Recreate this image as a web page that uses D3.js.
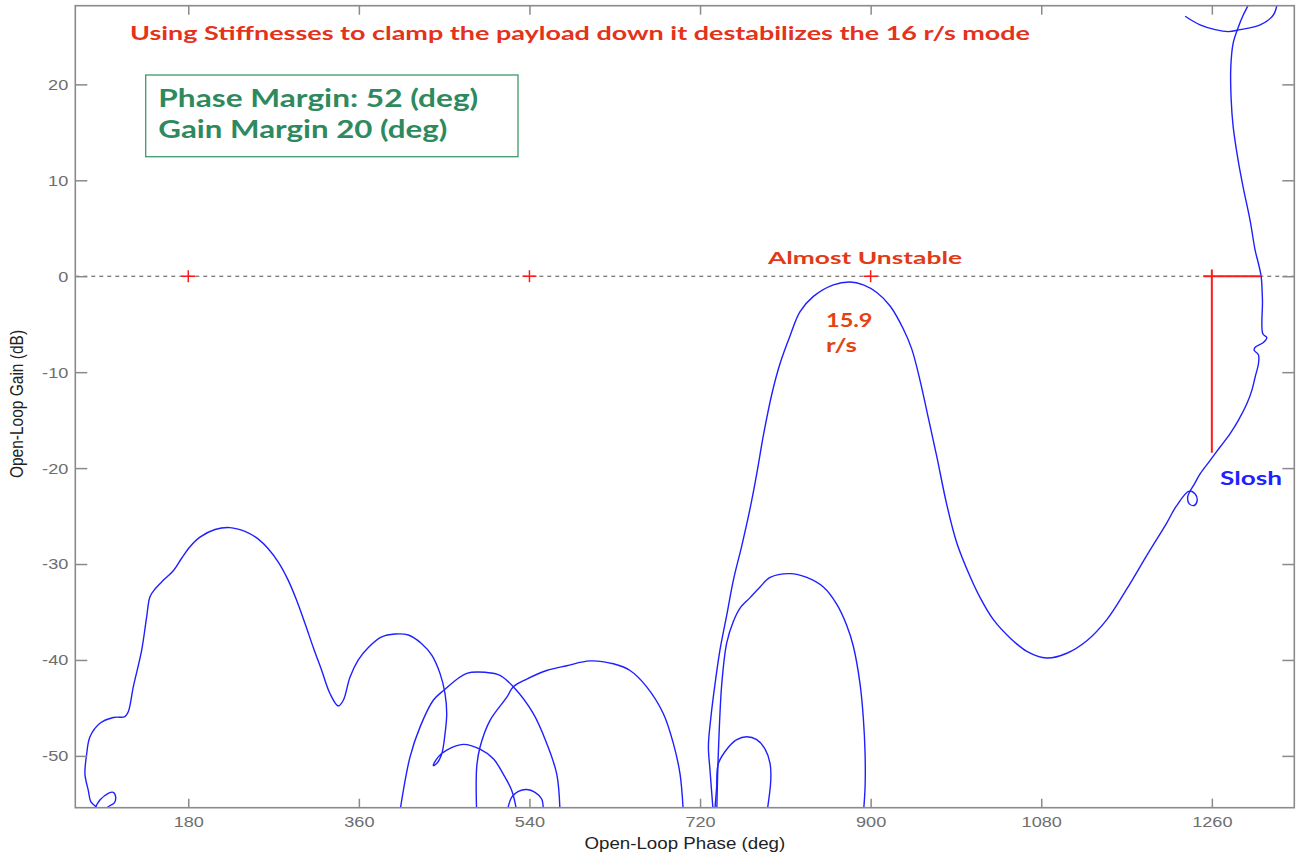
<!DOCTYPE html>
<html><head><meta charset="utf-8">
<script src="https://cdn.jsdelivr.net/npm/d3@7"></script>
<style>body{margin:0;background:#fff}svg{display:block}</style>
</head><body><svg id="c" width="1299" height="858"></svg>
<script>
// ---------- data ----------
const xTicks = [180, 360, 540, 720, 900, 1080, 1260];
const yTicks = [-50, -40, -30, -20, -10, 0, 10, 20];
const xDomain = [60.8, 1347];
const yDomain = [-55.4, 28.2];

// Nichols branches: [phase (deg), gain (dB)]
const branchLowLeft = [
  [90,-56],[81.5,-55.2],[77.3,-54.8],[74.5,-53.6],[71,-51.9],[72.8,-49.8],[76.3,-48.0],[86.8,-46.6],
  [100.9,-46.0],[113.2,-45.9],[116.7,-45.4],[122,-42.8],[130.8,-39.0],[136.1,-35.5],[139.6,-33.4],
  [144.9,-32.6],[153.6,-31.7],[164.2,-30.7],[173,-29.4],[181.8,-28.2],[192.3,-27.2],[208.2,-26.4],
  [224,-26.2],[239.8,-26.6],[253.9,-27.4],[264.4,-28.4],[275,-29.8],[285.5,-31.7],[294.4,-33.8],
  [303.2,-36.2],[311.9,-38.7],[320.8,-41.1],[329.5,-43.5],[338.3,-44.8],[343.6,-44.2],[350.6,-41.8],
  [359.4,-40.0],[370,-38.7],[384.1,-37.6],[398.1,-37.3],[412.2,-37.4],[426.3,-38.3],[436.9,-39.5],
  [445.6,-41.4],[450.9,-43.5],[452.7,-45.6],[450.9,-47.7],[447.4,-49.8],[442.1,-50.8],[438.5,-51.0],
  [443.8,-50.1],[452.7,-49.4],[470.2,-48.8],[487.8,-49.3],[501.9,-50.3],[512.4,-51.9],[521.3,-53.6],[527,-56]
];
const branchLoop = [
  [79.7,-55.8],[86.8,-54.6],[95.6,-53.9],[100.9,-53.8],[103.4,-54.3],[101.9,-54.9],[95.6,-55.3],[90.3,-55.8]
];
const branchArc1 = [
  [403,-56],[414,-50.1],[424.5,-47.0],[438.5,-44.2],[449.1,-43.2],[473.8,-41.4],[494.9,-41.3],
  [508.9,-41.6],[523,-42.8],[544.1,-45.6],[558.2,-48.7],[568.8,-51.9],[572.3,-56]
];
const branchArc2 = [
  [516,-56],[521.3,-54.3],[528.3,-53.7],[537,-53.5],[545.9,-53.8],[552.9,-54.5],[554.6,-56]
];
const branchArc3 = [
  [484.3,-56],[484.3,-51.2],[487.8,-49.1],[498.4,-46.3],[516,-43.9],[523,-42.8],[537.1,-42.0],
  [558.2,-41.1],[579.3,-40.6],[603.9,-40.1],[628.5,-40.4],[646.1,-41.1],[663.7,-42.8],[681.3,-45.6],
  [691.8,-48.7],[698.9,-51.9],[702.4,-56]
];
const branchMain = [
  [734,-56],[730.5,-51.5],[728.8,-49.0],[731.3,-46.1],[735.8,-42.5],[741.1,-38.9],[748.2,-35.3],
  [755.1,-31.7],[764,-28.1],[772.8,-24.2],[779.8,-20.6],[786.8,-16.6],[795.7,-12.3],[804.4,-9.1],
  [815,-6.2],[825.5,-3.7],[839.6,-2.1],[860.7,-0.9],[878.3,-0.6],[892.3,-0.9],[906.5,-1.7],
  [920.5,-3.1],[934.5,-5.5],[943.4,-7.6],[952.2,-10.9],[960.9,-14.8],[969.8,-18.8],[980.3,-23.8],
  [990.9,-27.8],[1004.9,-31.3],[1015.5,-33.5],[1029.5,-35.8],[1047.1,-37.7],[1064.8,-39.1],
  [1085.9,-39.8],[1107,-39.3],[1128.1,-38.0],[1149.2,-35.8],[1170.3,-32.6],[1191.4,-29.1],
  [1212.5,-25.7],[1222.3,-24.0],[1236,-22.4],[1242.4,-22.7],[1244.5,-23.4],[1241.3,-23.9],
  [1236,-23.7],[1234.5,-23.0],[1237.1,-22.4],[1241.3,-21.7],[1247.6,-20.6],[1258.2,-19.2],
  [1268.7,-17.8],[1279.3,-16.4],[1288.1,-15.0],[1296.9,-13.3],[1302.2,-11.9],[1305.7,-10.5],
  [1309.2,-9.1],[1309.2,-8.2],[1304.6,-7.7],[1305.7,-7.4],[1314.4,-6.9],[1318,-6.4],[1313.8,-6.0],
  [1313.4,-2.5],[1312,0],[1309.2,1.3],[1305.7,2.7],[1300.4,5.8],[1293,9.3],[1287.7,12.1],
  [1282.5,15.6],[1280.4,18.4],[1280,21.8],[1282.5,24.3],[1287.7,25.9],[1293,27.2],[1298.6,28.3],[1301.4,29]
];
const branchTop = [
  [1231.8,27.1],[1247.6,26.2],[1263.5,25.7],[1277.2,25.5],[1289.9,25.7],[1311,26.2],[1324.7,27.2],[1328.6,28.2],[1329.4,29]
];
const branchArc4 = [
  [737.6,-56],[739.3,-49.7],[742.9,-42.5],[748.2,-38.2],[755.1,-36.0],[762.2,-34.6],[772.8,-33.5],
  [783.3,-32.4],[793.9,-31.4],[815,-31.0],[832.6,-31.4],[850.1,-32.4],[864.3,-34.2],[874.8,-36.4],
  [881.8,-38.6],[888.8,-42.5],[892.3,-46.1],[894.1,-49.7],[894.1,-53.3],[892.3,-56]
];
const branchArc5 = [
  [735.3,-56],[737.4,-53.4],[739.3,-50.8],[749.9,-49.1],[758.7,-48.3],[769.3,-48.0],[779.8,-48.3],
  [788.6,-49.3],[793.9,-50.8],[794.6,-52.6],[790.4,-56]
];
const branches = [branchLowLeft, branchLoop, branchArc1, branchArc2, branchArc3, branchMain, branchTop, branchArc4, branchArc5];

const markerPhases = [180, 540, 900];
const gmVertical = [[1260, 0.7], [1260, -18.4]];
const gmHorizontal = [[1251, 0], [1312, 0]];

// ---------- layout ----------
const P = {left: 75.3, right: 1294.3, top: 5.7, bottom: 807.7};
const SX = 1.17; // horizontal text stretch of the original picture
const x = d3.scaleLinear().domain(xDomain).range([P.left, P.right]);
const y = d3.scaleLinear().domain(yDomain).range([P.bottom, P.top]);
const svg = d3.select('#c');
const axisColor = '#8a8a8a';
const fmt = d => String(d);

svg.append('defs').append('clipPath').attr('id', 'clip')
  .append('rect').attr('x', P.left).attr('y', P.top)
  .attr('width', P.right - P.left).attr('height', P.bottom - P.top);

// zero dB dashed line
svg.append('line').attr('x1', P.left).attr('x2', P.right)
  .attr('y1', y(0)).attr('y2', y(0))
  .attr('stroke', '#555').attr('stroke-width', 1).attr('stroke-dasharray', '4,4');

// curves
const line = d3.line().x(d => x(d[0])).y(d => y(d[1])).curve(d3.curveCatmullRom.alpha(0.5));
const gPlot = svg.append('g').attr('clip-path', 'url(#clip)');
gPlot.selectAll('path.b').data(branches).join('path').attr('class', 'b')
  .attr('d', line).attr('fill', 'none').attr('stroke', '#1f1fff').attr('stroke-width', 1.4)
  .attr('stroke-linejoin', 'round');

// red markers
const red = '#ff1a1a';
const gm = svg.append('g').attr('stroke', red).attr('stroke-width', 1.5);
markerPhases.forEach(p => {
  gm.append('line').attr('x1', x(p) - 7).attr('x2', x(p) + 7).attr('y1', y(0)).attr('y2', y(0));
  gm.append('line').attr('x1', x(p)).attr('x2', x(p)).attr('y1', y(0) - 6).attr('y2', y(0) + 6);
});
const straight = d3.line().x(d => x(d[0])).y(d => y(d[1]));
gm.append('path').attr('d', straight(gmVertical)).attr('fill', 'none').attr('stroke-width', 2);
gm.append('path').attr('d', straight(gmHorizontal)).attr('fill', 'none').attr('stroke-width', 2);

// axes
function styleAxis(g) {
  g.select('.domain').remove();
  g.selectAll('.tick line').attr('stroke', axisColor).attr('stroke-width', 1.5);
  g.selectAll('.tick text').attr('fill', '#6e6e6e').attr('font-family', 'Liberation Sans, Arial, sans-serif').attr('font-size', 15.5);
}
const gB = svg.append('g').attr('transform', `translate(0,${P.bottom})`)
  .call(d3.axisBottom(x).tickValues(xTicks).tickFormat(fmt).tickSize(-9).tickPadding(8)).call(styleAxis);
gB.selectAll('.tick text').attr('transform', `scale(${SX},1)`);
const gT = svg.append('g').attr('transform', `translate(0,${P.top})`)
  .call(d3.axisTop(x).tickValues(xTicks).tickSize(-9).tickFormat('')).call(styleAxis);
const gL = svg.append('g').attr('transform', `translate(${P.left},0)`)
  .call(d3.axisLeft(y).tickValues(yTicks).tickFormat(fmt).tickSize(-12).tickPadding(6)).call(styleAxis);
gL.selectAll('.tick text').attr('transform', `scale(${SX},1)`).attr('x', -6);
const gR = svg.append('g').attr('transform', `translate(${P.right},0)`)
  .call(d3.axisRight(y).tickValues(yTicks).tickSize(-12).tickFormat('')).call(styleAxis);

// frame
svg.append('rect').attr('x', P.left).attr('y', P.top).attr('width', P.right - P.left).attr('height', P.bottom - P.top)
  .attr('fill', 'none').attr('stroke', axisColor).attr('stroke-width', 1.6);

// axis titles
svg.append('text').attr('transform', `translate(${(P.left + P.right) / 2},849) scale(${SX},1)`)
  .attr('text-anchor', 'middle').attr('font-family', 'Liberation Sans, Arial, sans-serif')
  .attr('font-size', 16).attr('fill', '#222').text('Open-Loop Phase (deg)');
svg.append('text').attr('transform', `translate(23,404) scale(${SX},1) rotate(-90)`)
  .attr('text-anchor', 'middle').attr('font-family', 'Liberation Sans, Arial, sans-serif')
  .attr('font-size', 15.5).attr('fill', '#222').text('Open-Loop Gain (dB)');

// annotations
const bold = 'Lato, Open Sans, sans-serif';
svg.append('text').attr('x', 130).attr('y', 40).attr('font-family', bold).attr('font-weight', 700)
  .attr('font-size', 19.5).attr('fill', '#e4321b').attr('textLength', 900).attr('lengthAdjust', 'spacingAndGlyphs')
  .text('Using Stiffnesses to clamp the payload down it destabilizes the 16 r/s mode');

svg.append('rect').attr('x', 145.7).attr('y', 75).attr('width', 372.3).attr('height', 81.7)
  .attr('fill', 'none').attr('stroke', '#3d9a6c').attr('stroke-width', 1.3);
svg.append('text').attr('x', 158.3).attr('y', 107.3).attr('font-family', bold).attr('font-weight', 700)
  .attr('font-size', 24).attr('fill', '#2e8a5e').attr('textLength', 320).attr('lengthAdjust', 'spacingAndGlyphs')
  .text('Phase Margin: 52 (deg)');
svg.append('text').attr('x', 158.3).attr('y', 138.3).attr('font-family', bold).attr('font-weight', 700)
  .attr('font-size', 24).attr('fill', '#2e8a5e').attr('textLength', 289).attr('lengthAdjust', 'spacingAndGlyphs')
  .text('Gain Margin 20 (deg)');

svg.append('text').attr('x', 768).attr('y', 264.3).attr('font-family', bold).attr('font-weight', 700)
  .attr('font-size', 17.5).attr('fill', '#e23a17').attr('textLength', 194).attr('lengthAdjust', 'spacingAndGlyphs')
  .text('Almost Unstable');
svg.append('text').attr('x', 826).attr('y', 327.3).attr('font-family', bold).attr('font-weight', 700)
  .attr('font-size', 18.5).attr('fill', '#e3430f').attr('textLength', 46.5).attr('lengthAdjust', 'spacingAndGlyphs')
  .text('15.9');
svg.append('text').attr('x', 826).attr('y', 351.5).attr('font-family', bold).attr('font-weight', 700)
  .attr('font-size', 18.5).attr('fill', '#e3430f').attr('textLength', 31).attr('lengthAdjust', 'spacingAndGlyphs')
  .text('r/s');
svg.append('text').attr('x', 1220).attr('y', 484.5).attr('font-family', bold).attr('font-weight', 700)
  .attr('font-size', 19.5).attr('fill', '#1f1fff').attr('textLength', 62).attr('lengthAdjust', 'spacingAndGlyphs')
  .text('Slosh');
</script></body></html>
